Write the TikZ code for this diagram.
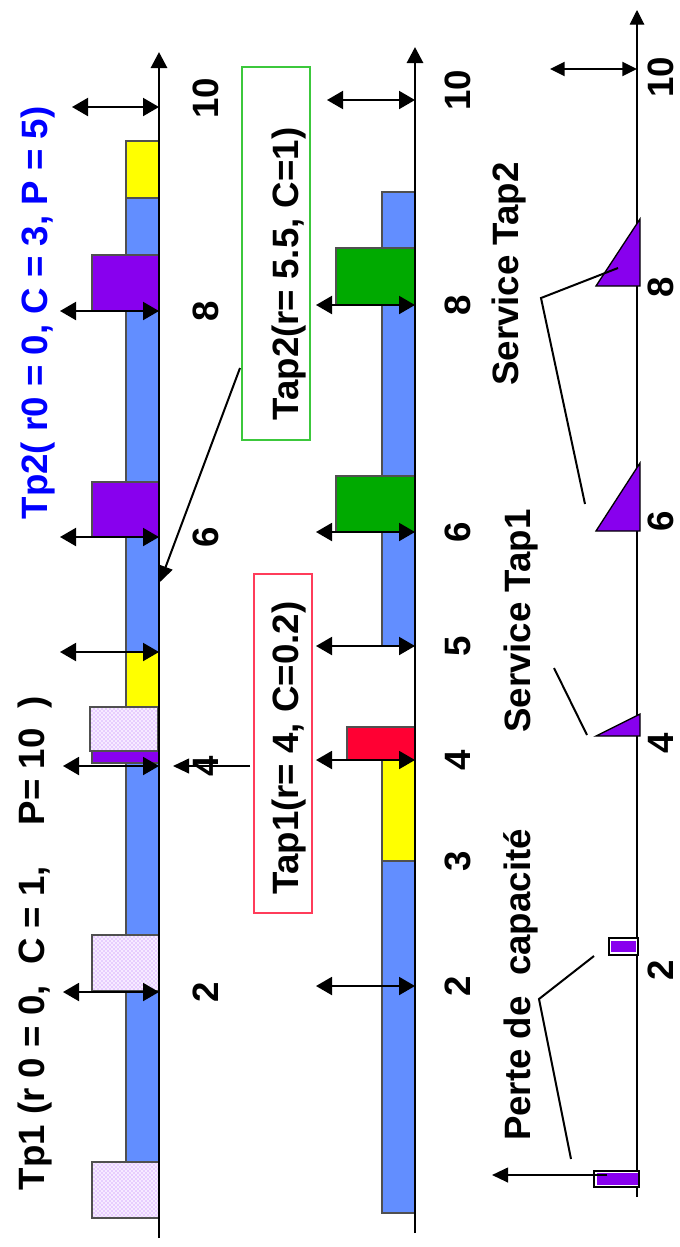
\documentclass[tikz,border=0pt]{standalone}
\usepackage{fontspec}
\setmainfont{Liberation Sans}
\usetikzlibrary{arrows.meta,patterns}
\definecolor{barblue}{RGB}{98,142,255}
\definecolor{jobviolet}{RGB}{136,0,238}
\definecolor{jobyellow}{RGB}{255,255,0}
\definecolor{jobgreen}{RGB}{0,170,0}
\definecolor{jobred}{RGB}{255,0,51}
\definecolor{titleblue}{RGB}{0,0,255}
\definecolor{edgegray}{RGB}{80,80,80}
\definecolor{boxgreen}{RGB}{60,200,60}
\definecolor{boxred}{RGB}{255,60,90}
\definecolor{dotviolet}{RGB}{185,100,255}
\definecolor{lostbg}{RGB}{246,236,255}
\tikzset{
  lbl/.style={rotate=90, anchor=base, inner sep=0pt,
    font=\fontsize{27.5}{30}\selectfont\bfseries},
  blk/.style={draw=edgegray, line width=0.8pt},
  tmark/.style={{Triangle[length=12pt,width=13.5pt]}-{Triangle[length=12pt,width=13.5pt]}, line width=1.5pt},
  smallmark/.style={{Triangle[length=11pt,width=10.5pt]}-{Triangle[length=11pt,width=10.5pt]}, line width=1.5pt},
  ptr/.style={-{Triangle[length=12pt,width=11pt]}, line width=1.5pt},
  axisbold/.style={-{Triangle[length=12pt,width=12pt]}, line width=2.2pt},
  axisthin/.style={-{Triangle[length=11pt,width=11pt]}, line width=0.8pt},
  leader/.style={line width=1.5pt},
  servtri/.style={fill=jobviolet, draw=black, line width=1pt},
}
% a job slot lost by the server: light background, violet dots, grey frame
\newcommand{\lostslot}[2]{%
  \fill[lostbg] #1 rectangle #2;
  \fill[pattern=crosshatch dots, pattern color=dotviolet] #1 rectangle #2;
  \draw[blk] #1 rectangle #2;}
\begin{document}
\begin{tikzpicture}[x=0.75pt,y=-0.75pt]
\useasboundingbox (0,0) rectangle (680,1247);

% ---------- periodic tasks Tp1 / Tp2 ----------
\filldraw[blk, fill=barblue] (126,198) rectangle (159,1162);
\filldraw[blk, fill=jobyellow] (126,141) rectangle (159,198);
\filldraw[blk, fill=jobviolet] (92,255) rectangle (159,311);
\filldraw[blk, fill=jobviolet] (92,482) rectangle (159,537);
\filldraw[blk, fill=jobyellow] (126,652) rectangle (159,707);
\lostslot{(90,707)}{(158,751)}
\filldraw[blk, fill=jobviolet] (92,751) rectangle (159,763);
\lostslot{(92,935)}{(159,991)}
\lostslot{(92,1162)}{(159,1218)}

\coordinate (a1lo) at (159,1238);
\coordinate (a1hi) at (159,52);
\foreach \yy/\xx in {107/72, 311/60, 537/60, 652/60, 766/63, 992/63}
  \draw[tmark] (\xx,\yy) -- (159,\yy);
\draw[axisbold] (a1lo) -- (a1hi);

\node[lbl, text=titleblue] (tp2) at (47,313) {Tp2( r0 = 0, C = 3, P = 5)};
\node[lbl] (tp1) at (45,943) {Tp1 (r 0 = 0,\ \ C = 1,\ \ \ \ P= 10\ \ )};
\foreach \yy/\tt in {98/10, 311/8, 537/6, 766/4, 992/2}
  \node[lbl] at (218,\yy) {\tt};

% ---------- aperiodic tasks Tap1 / Tap2 ----------
\filldraw[blk, fill=barblue] (382,192) rectangle (415,646);
\filldraw[blk, fill=jobgreen] (336,248) rectangle (415,305);
\filldraw[blk, fill=jobgreen] (336,476) rectangle (415,532);
\filldraw[blk, fill=jobred] (347,727) rectangle (415,760);
\filldraw[blk, fill=jobyellow] (382,760) rectangle (415,861);
\filldraw[blk, fill=barblue] (382,861) rectangle (415,1213);

\coordinate (a2lo) at (415,1233);
\coordinate (a2hi) at (415,47);
\draw[tmark] (327,100) -- (415,100);
\foreach \yy in {305, 532, 646, 760, 986}
  \draw[tmark] (316,\yy) -- (415,\yy);
\draw[axisbold] (a2lo) -- (a2hi);

\foreach \yy/\tt in {90/10, 305/8, 532/6, 646/5, 760/4, 861/3, 986/2}
  \node[lbl] at (470,\yy) {\tt};

\node[draw=boxgreen, line width=0.8pt, inner sep=0pt,
  minimum width=51pt, minimum height=279.75pt] (tap2box) at (276,253.5) {};
\node[lbl] (tap2) at (298,274) {Tap2(r= 5.5, C=1)};
\node[draw=boxred, line width=0.8pt, inner sep=0pt,
  minimum width=43.5pt, minimum height=254.25pt] (tap1box) at (283,743.5) {};
\node[lbl] (tap1) at (298,748) {Tap1(r= 4, C=0.2)};

\coordinate (tap2src) at (240,368);
\coordinate (tap2dst) at (160,582);
\coordinate (tap1src) at (250,766);
\coordinate (tap1dst) at (173,766);
\draw[ptr] (tap2src) -- (tap2dst);
\draw[ptr] (tap1src) -- (tap1dst);

% ---------- server service ----------
\coordinate (a3lo) at (637,1197);
\coordinate (a3hi) at (637,10);
\draw[axisthin] (a3lo) -- (a3hi);
\draw[smallmark] (550,69) -- (637,69);

\filldraw[servtri] (596,286) -- (640,286) -- (640,219) -- cycle;
\filldraw[servtri] (596,531) -- (640,531) -- (640,463) -- cycle;
\filldraw[servtri] (596,736) -- (640,736) -- (640,714) -- cycle;

\filldraw[draw=black, fill=white, line width=0.8pt] (609,938) rectangle (638,955);
\fill[jobviolet] (611,941) rectangle (636,952);
\filldraw[draw=black, fill=white, line width=0.8pt] (594,1171) rectangle (639,1187);
\fill[jobviolet] (597,1173) rectangle (638,1185);

\coordinate (lossstart) at (607,1175);
\coordinate (lossend) at (492,1175);
\draw[ptr] (lossstart) -- (lossend);

\node[lbl] (srv2) at (518,274) {Service Tap2};
\node[lbl] (srv1) at (530,621) {Service Tap1};
\node[lbl] (loss) at (530,985) {Perte de\ \ capacité};

\draw[leader] (618,268) -- (541,298) -- (585,504);
\draw[leader] (554,668) -- (587,735);
\draw[leader] (594,956) -- (539,999) -- (571,1159);

\foreach \yy/\tt in {77/10, 287/8, 521/6, 743/4, 970/2}
  \node[lbl] at (673,\yy) {\tt};
\end{tikzpicture}
\end{document}
